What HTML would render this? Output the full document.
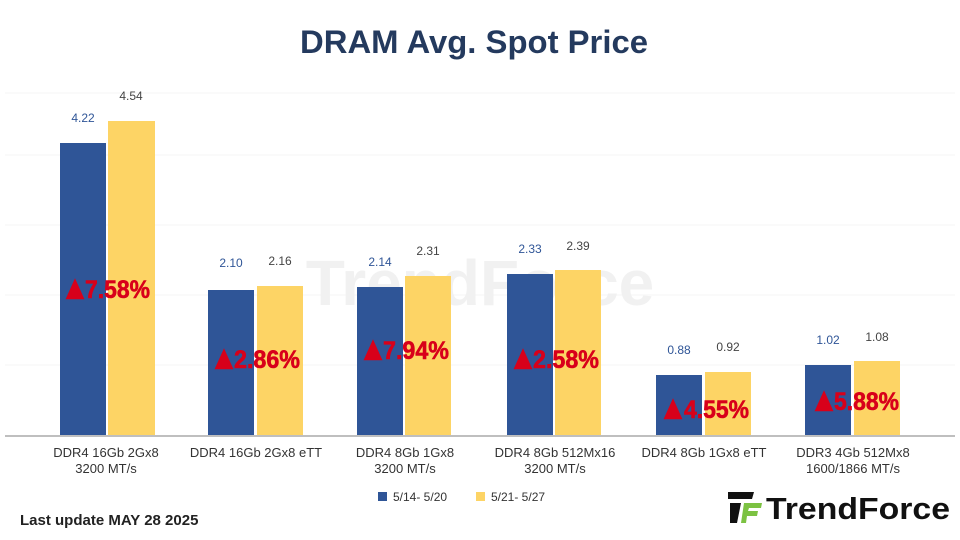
<!DOCTYPE html>
<html><head><meta charset="utf-8"><style>
html,body{margin:0;padding:0;background:#fff;}
svg{display:block;font-family:"Liberation Sans",sans-serif;}
</style></head><body>
<svg width="960" height="540" viewBox="0 0 960 540">
<rect width="960" height="540" fill="#fff"/>
<text x="474" y="53" text-anchor="middle" font-size="32" font-weight="bold" fill="#243a5e" textLength="348" lengthAdjust="spacingAndGlyphs">DRAM Avg. Spot Price</text>
<g stroke="#f4f4f4" stroke-width="1">
<line x1="5" y1="93" x2="955" y2="93"/><line x1="5" y1="155" x2="955" y2="155"/><line x1="5" y1="225" x2="955" y2="225"/><line x1="5" y1="295" x2="955" y2="295"/><line x1="5" y1="365" x2="955" y2="365"/>
</g>
<text x="480" y="305" text-anchor="middle" font-size="64" font-weight="bold" fill="#f1f1f1">TrendForce</text>
<g fill="#2f5597">
<rect x="60" y="143" width="46" height="293"/>
<rect x="208" y="290" width="46" height="146"/>
<rect x="357" y="287" width="46" height="149"/>
<rect x="507" y="274" width="46" height="162"/>
<rect x="656" y="375" width="46" height="61"/>
<rect x="805" y="365" width="46" height="71"/>
</g>
<g fill="#fdd465">
<rect x="108" y="121" width="47" height="315"/>
<rect x="257" y="286" width="46" height="150"/>
<rect x="405" y="276" width="46" height="160"/>
<rect x="555" y="270" width="46" height="166"/>
<rect x="705" y="372" width="46" height="64"/>
<rect x="854" y="361" width="46" height="75"/>
</g>
<line x1="5" y1="436" x2="955" y2="436" stroke="#bfbfbf" stroke-width="2"/>
<g font-size="12" text-anchor="middle">
<text x="83" y="122" fill="#2f5597">4.22</text><text x="131" y="100" fill="#444">4.54</text>
<text x="231" y="267" fill="#2f5597">2.10</text><text x="280" y="265" fill="#444">2.16</text>
<text x="380" y="266" fill="#2f5597">2.14</text><text x="428" y="255" fill="#444">2.31</text>
<text x="530" y="253" fill="#2f5597">2.33</text><text x="578" y="250" fill="#444">2.39</text>
<text x="679" y="354" fill="#2f5597">0.88</text><text x="728" y="351" fill="#444">0.92</text>
<text x="828" y="344" fill="#2f5597">1.02</text><text x="877" y="341" fill="#444">1.08</text>
</g>
<g fill="#d8001a" font-size="25" font-weight="bold" stroke="#d8001a" stroke-width="0.6">
<polygon points="66,299 75,279 84,299"/><text x="85" y="298" textLength="65" lengthAdjust="spacingAndGlyphs">7.58%</text>
<polygon points="215,369 224,349 233,369"/><text x="234" y="368" textLength="66" lengthAdjust="spacingAndGlyphs">2.86%</text>
<polygon points="364,360 373,340 382,360"/><text x="383" y="359" textLength="66" lengthAdjust="spacingAndGlyphs">7.94%</text>
<polygon points="514,369 523,349 532,369"/><text x="533" y="368" textLength="66" lengthAdjust="spacingAndGlyphs">2.58%</text>
<polygon points="664,419 673,399 682,419"/><text x="684" y="418" textLength="65" lengthAdjust="spacingAndGlyphs">4.55%</text>
<polygon points="815,411 824,391 833,411"/><text x="834" y="410" textLength="65" lengthAdjust="spacingAndGlyphs">5.88%</text>
</g>
<g font-size="13" fill="#333" text-anchor="middle">
<text x="106" y="457">DDR4 16Gb 2Gx8</text><text x="106" y="473">3200 MT/s</text>
<text x="256" y="457">DDR4 16Gb 2Gx8 eTT</text>
<text x="405" y="457">DDR4 8Gb 1Gx8</text><text x="405" y="473">3200 MT/s</text>
<text x="555" y="457">DDR4 8Gb 512Mx16</text><text x="555" y="473">3200 MT/s</text>
<text x="704" y="457">DDR4 8Gb 1Gx8 eTT</text>
<text x="853" y="457">DDR3 4Gb 512Mx8</text><text x="853" y="473">1600/1866 MT/s</text>
</g>
<rect x="378" y="492" width="9" height="9" fill="#2f5597"/>
<text x="393" y="501" font-size="12" fill="#333">5/14- 5/20</text>
<rect x="476" y="492" width="9" height="9" fill="#fdd465"/>
<text x="491" y="501" font-size="12" fill="#333">5/21- 5/27</text>
<text x="20" y="525" font-size="15" font-weight="bold" fill="#222">Last update MAY 28 2025</text>
<g transform="translate(728,492)">
<polygon points="0,0 26,0 24,7 0,7" fill="#111"/>
<polygon points="2,11 13,11 9,31 2,31" fill="#111"/>
<polygon points="16,11 34,11 33,16 21,16 20,19 30,19 29,24 19,24 18,31 13,31" fill="#7cc242"/>
</g>
<text x="766" y="519" font-size="31" font-weight="bold" fill="#111" textLength="184" lengthAdjust="spacingAndGlyphs">TrendForce</text>
</svg>
</body></html>
